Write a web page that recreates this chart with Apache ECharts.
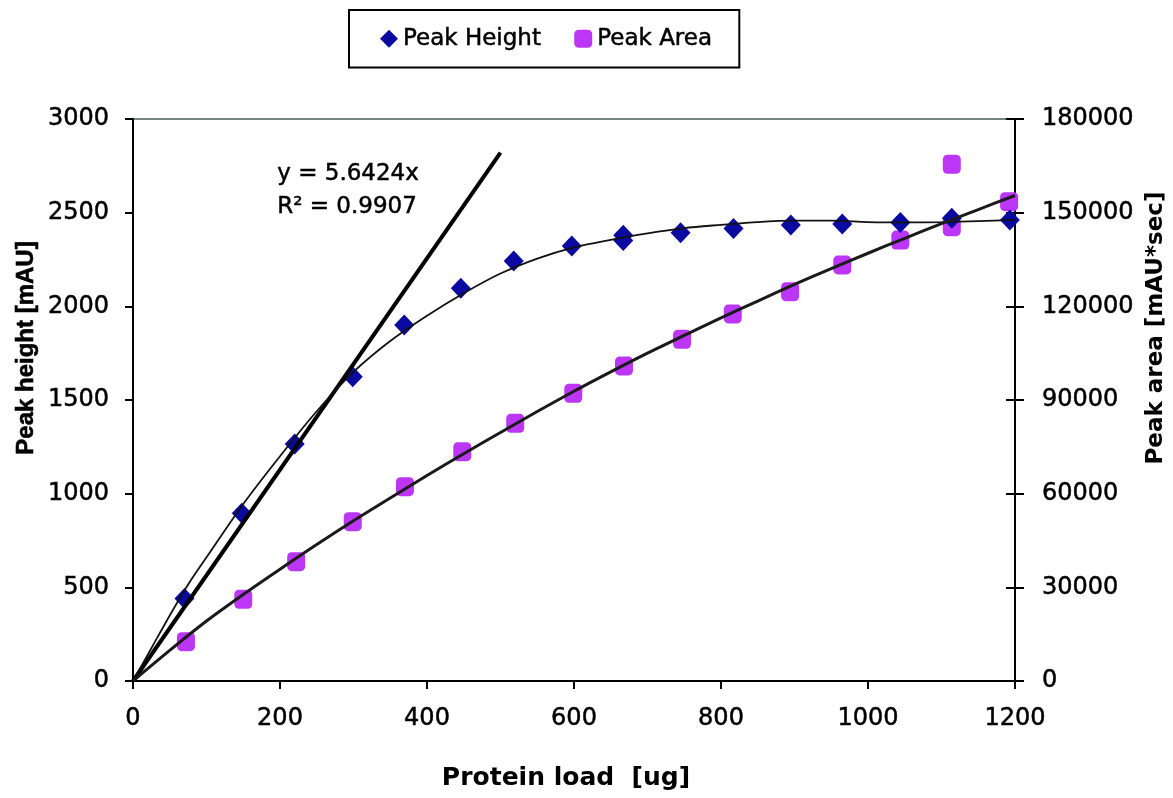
<!DOCTYPE html>
<html>
<head>
<meta charset="utf-8">
<script src="https://cdn.jsdelivr.net/npm/echarts@6/dist/echarts.min.js"></script>
<style>
html,body{margin:0;padding:0;background:#fff;}
#chart{width:1173px;height:798px;}
</style>
</head>
<body>
<div id="chart"></div>
<script>
// ---- data ----
const xTicks = [0, 200, 400, 600, 800, 1000, 1200];
const heightTicks = [0, 500, 1000, 1500, 2000, 2500, 3000];
const areaTicks = [0, 30000, 60000, 90000, 120000, 150000, 180000];

// Peak Height (diamonds) – protein load [ug] / height [mAU]
const heightX = [70, 148, 220, 299, 369, 446, 518, 597, 667, 667, 745, 817, 895, 965, 1044, 1114, 1193];
const heightY = [441, 895, 1265, 1624, 1900, 2096, 2242, 2322, 2380, 2352, 2393, 2416, 2434, 2440, 2447, 2470, 2461];

// Peak Area (squares) – protein load [ug] / area [mAU*sec]
const areaX = [72, 150, 222, 299, 370, 448, 520, 599, 668, 747, 816, 894, 965, 1044, 1114, 1114, 1192];
const areaY = [12600, 26170, 38210, 51030, 62240, 73450, 82530, 92150, 100890, 109440, 117540, 124690, 133240, 141240, 145500, 165490, 153510];

// Linear trendline y = 5.6424x (drawn from 0 to ~500)
const linFitX = [0, 500];
const linFitY = [0, 2821];

// Height trend curve
const hTrendX = [0, 25, 50, 75, 100, 150, 200, 250, 300, 350, 400, 450, 500, 550, 600, 650, 700, 750, 800, 850, 900, 950, 1000, 1050, 1100, 1150, 1200];
const hTrendY = [0, 175, 350, 515, 660, 945, 1200, 1440, 1650, 1815, 1950, 2070, 2175, 2255, 2315, 2355, 2390, 2418, 2435, 2450, 2457, 2457, 2450, 2448, 2450, 2455, 2461];

// Area trend curve
const aTrendX = [0, 50, 100, 150, 200, 250, 300, 350, 400, 450, 500, 550, 600, 650, 700, 750, 800, 850, 900, 950, 1000, 1050, 1100, 1150, 1200];
const aTrendY = [0, 9800, 19200, 27700, 35800, 43700, 51300, 58600, 65800, 72800, 79600, 86300, 92800, 99000, 105000, 110700, 116300, 121700, 127000, 132100, 137000, 141800, 146500, 151000, 155500];

const eqLines = ['y = 5.6424x', 'R\u00B2 = 0.9907'];

const zip = (a, b) => a.map((v, i) => [v, b[i]]);

const BLUE = '#0A0AA0';
const PURPLE = '#BC36F6';
const tickFont = { fontFamily: 'DejaVu Sans', fontSize: 24, color: '#000', textBorderColor: '#000', textBorderWidth: 0.5, formatter: v => String(v) };

const chart = echarts.init(document.getElementById('chart'), null, { renderer: 'canvas' });

chart.setOption({
  animation: false,
  backgroundColor: '#fff',
  grid: { left: 133, right: 158, top: 119, bottom: 117, show: true, borderColor: '#748484', borderWidth: 2, backgroundColor: 'transparent' },
  legend: {
    left: 349, top: 10,
    padding: [17, 27, 17, 31],
    borderColor: '#000', borderWidth: 2,
    itemWidth: 18, itemHeight: 18, itemGap: 33,
    textStyle: { fontFamily: 'DejaVu Sans', fontSize: 23, color: '#000', textBorderColor: '#000', textBorderWidth: 0.5 },
    data: [
      { name: 'Peak Height', icon: 'diamond' },
      { name: 'Peak Area', icon: 'roundRect' }
    ]
  },
  xAxis: {
    type: 'value', min: xTicks[0], max: xTicks[xTicks.length - 1], interval: 200,
    axisLine: { show: true, lineStyle: { color: '#000', width: 2 } },
    axisTick: { show: true, inside: false, length: 8, lineStyle: { color: '#000', width: 2 } },
    splitLine: { show: false },
    axisLabel: Object.assign({ margin: 26 }, tickFont)
  },
  yAxis: [
    {
      type: 'value', position: 'left', min: heightTicks[0], max: heightTicks[heightTicks.length - 1], interval: 500,
      axisLine: { show: true, lineStyle: { color: '#000', width: 2 } },
      axisTick: { show: true, inside: false, length: 8, lineStyle: { color: '#000', width: 2 } },
      splitLine: { show: false },
      axisLabel: Object.assign({ margin: 24 }, tickFont)
    },
    {
      type: 'value', position: 'right', min: areaTicks[0], max: areaTicks[areaTicks.length - 1], interval: 30000,
      axisLine: { show: true, lineStyle: { color: '#000', width: 2 } },
      axisTick: { show: true, inside: false, length: 9, lineStyle: { color: '#000', width: 2 } },
      splitLine: { show: false },
      axisLabel: Object.assign({ margin: 27 }, tickFont)
    },
    {
      type: 'value', position: 'right', min: areaTicks[0], max: areaTicks[areaTicks.length - 1], interval: 30000,
      axisLine: { show: false },
      axisTick: { show: true, inside: true, length: 9, lineStyle: { color: '#000', width: 2 } },
      splitLine: { show: false },
      axisLabel: { show: false }
    }
  ],
  series: [
    {
      name: 'Peak Height', type: 'scatter', yAxisIndex: 0,
      symbol: 'diamond', symbolSize: [20, 21],
      itemStyle: { color: BLUE, opacity: 1 },
      data: zip(heightX, heightY), z: 3
    },
    {
      name: 'Peak Area', type: 'scatter', yAxisIndex: 1,
      symbol: 'roundRect', symbolSize: [18, 19],
      itemStyle: { color: PURPLE, opacity: 1 },
      data: zip(areaX, areaY), z: 2
    },
    {
      name: 'Linear fit', type: 'line', yAxisIndex: 0,
      showSymbol: false, symbol: 'none',
      lineStyle: { color: '#000', width: 4 },
      data: zip(linFitX, linFitY), z: 5
    },
    {
      name: 'Height trend', type: 'line', yAxisIndex: 0,
      showSymbol: false, symbol: 'none', smooth: 0.3,
      lineStyle: { color: '#111', width: 1.8 },
      data: zip(hTrendX, hTrendY), z: 5
    },
    {
      name: 'Area trend', type: 'line', yAxisIndex: 1,
      showSymbol: false, symbol: 'none', smooth: 0.3,
      lineStyle: { color: '#1a1a1a', width: 3 },
      data: zip(aTrendX, aTrendY), z: 5
    }
  ],
  graphic: [
    {
      type: 'text', left: 277, top: 158,
      style: { text: eqLines.join('\n'), fontFamily: 'DejaVu Sans', fontSize: 23, lineHeight: 33, fill: '#000', stroke: '#000', lineWidth: 0.5 }
    },
    {
      type: 'text', x: 26, y: 348, rotation: Math.PI / 2,
      style: { text: 'Peak height [mAU]', font: 'bold 24px "Liberation Sans", Arial, sans-serif', fill: '#000', stroke: '#000', lineWidth: 0.6, align: 'center', verticalAlign: 'middle' }
    },
    {
      type: 'text', x: 1156, y: 328, rotation: Math.PI / 2,
      style: { text: 'Peak area [mAU*sec]', fontFamily: 'DejaVu Sans', fontWeight: 'bold', fontSize: 23, fill: '#000', align: 'center', verticalAlign: 'middle' }
    },
    {
      type: 'text', x: 566, y: 778,
      style: { text: 'Protein load  [ug]', fontFamily: 'DejaVu Sans', fontWeight: 'bold', fontSize: 25, fill: '#000', align: 'center', verticalAlign: 'middle' }
    }
  ]
});
</script>
</body>
</html>
